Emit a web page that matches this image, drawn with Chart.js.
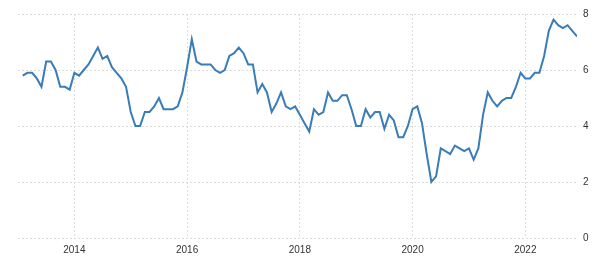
<!DOCTYPE html>
<html>
<head>
<meta charset="utf-8">
<script src="https://cdn.jsdelivr.net/npm/chart.js@4"></script>
<style>
  html, body { margin: 0; padding: 0; background: #fff; }
  #wrap { width: 602px; height: 267px; }
</style>
</head>
<body>
<div id="wrap"><canvas id="chart" width="602" height="267"></canvas></div>
<script>
// monthly readings, Feb 2013 .. Dec 2022
const startYear = 2013
const startMonth = 2
const values = [
  5.8, 5.9, 5.9, 5.7, 5.4, 6.3, 6.3, 6.0, 5.4, 5.4, 5.3,
  5.9, 5.8, 6.0, 6.2, 6.5, 6.8, 6.4, 6.5, 6.1, 5.9, 5.7, 5.4,
  4.5, 4.0, 4.0, 4.5, 4.5, 4.7, 5.0, 4.6, 4.6, 4.6, 4.7, 5.2,
  6.1, 7.1, 6.3, 6.2, 6.2, 6.2, 6.0, 5.9, 6.0, 6.5, 6.6, 6.8,
  6.6, 6.2, 6.2, 5.2, 5.5, 5.2, 4.5, 4.8, 5.2, 4.7, 4.6, 4.7,
  4.4, 4.1, 3.8, 4.6, 4.4, 4.5, 5.2, 4.9, 4.9, 5.1, 5.1, 4.6,
  4.0, 4.0, 4.6, 4.3, 4.5, 4.5, 3.9, 4.4, 4.2, 3.6, 3.6, 4.0,
  4.6, 4.7, 4.1, 3.0, 2.0, 2.2, 3.2, 3.1, 3.0, 3.3, 3.2, 3.1,
  3.2, 2.8, 3.2, 4.4, 5.2, 4.9, 4.7, 4.9, 5.0, 5.0, 5.4, 5.9,
  5.7, 5.7, 5.9, 5.9, 6.5, 7.4, 7.8, 7.6, 7.5, 7.6, 7.4, 7.2
]
const yearTicks = [2014, 2016, 2018, 2020, 2022]
const yTicks = [0, 2, 4, 6, 8]

// month labels like "2013-02"
const months = values.map((v, i) => {
  const m = startMonth - 1 + i
  const y = startYear + Math.floor(m / 12)
  return y + '-' + String(m % 12 + 1).padStart(2, '0')
})

function monthToX(label) {
  const [y, m] = label.split('-').map(Number)
  return y + (m - 1) / 12
}

const points = months.map((label, i) => ({ x: monthToX(label), y: values[i] }))

const gridStyle = {
  color: '#dcdcdc',
  lineWidth: 1,
  drawTicks: false
}

new Chart(document.getElementById('chart'), {
  type: 'line',
  data: {
    datasets: [{
      data: points,
      borderColor: '#3a7cb8',
      borderWidth: 2,
      pointRadius: 0,
      tension: 0,
      fill: false
    }]
  },
  options: {
    responsive: false,
    animation: false,
    layout: { padding: { left: 18, top: 14, right: 0, bottom: 0 } },
    plugins: { legend: { display: false }, tooltip: { enabled: false } },
    scales: {
      x: {
        type: 'linear',
        min: monthToX(months[0]) - 1 / 12,
        max: monthToX(months[months.length - 1]),
        border: { display: false, dash: [2, 2] },
        grid: gridStyle,
        afterBuildTicks: s => { s.ticks = yearTicks.map(v => ({ value: v })) },
        afterFit: s => { s.height = 29 },
        ticks: {
          padding: 6,
          color: '#333',
          font: { family: 'Liberation Sans', size: 10 },
          maxRotation: 0,
          callback: v => String(v)
        }
      },
      y: {
        position: 'right',
        min: 0,
        max: 8,
        border: { display: false, dash: [2, 2] },
        grid: gridStyle,
        afterBuildTicks: s => { s.ticks = yTicks.map(v => ({ value: v })) },
        afterFit: s => { s.width = 25 },
        ticks: {
          padding: 6,
          color: '#333',
          font: { family: 'Liberation Sans', size: 10 },
          callback: v => String(v)
        }
      }
    }
  }
})
</script>
</body>
</html>
